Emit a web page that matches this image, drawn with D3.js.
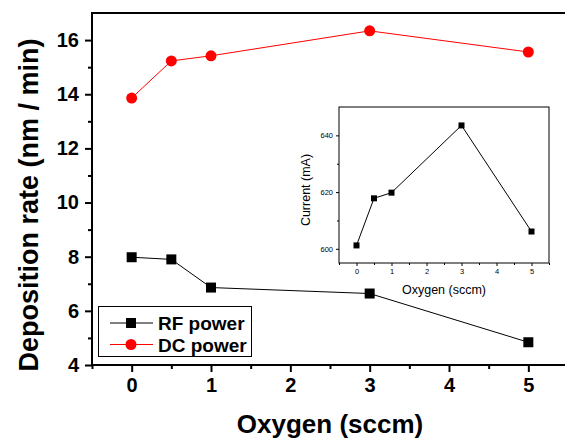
<!DOCTYPE html>
<html>
<head>
<meta charset="utf-8">
<script src="https://cdn.jsdelivr.net/npm/d3@7"></script>
<style>
  body { margin: 0; background: #fff; }
  svg { display: block; font-family: "Liberation Sans", Arial, sans-serif; }
</style>
</head>
<body>
<svg id="chart" width="565" height="438"></svg>
<script>
'use strict';

/* -- Data ------------------------------------------------------------------ */
const oxygen = [0, 0.5, 1, 3, 5];
const rfPower = [7.98, 7.9, 6.86, 6.64, 4.84];
const dcPower = [13.86, 15.23, 15.42, 16.34, 15.56];
const current = [601.2, 617.8, 619.8, 643.5, 606.1];

const mainXTicks = [0, 1, 2, 3, 4, 5];
const mainYTicks = [4, 6, 8, 10, 12, 14, 16];
const insetXTicks = [0, 1, 2, 3, 4, 5];
const insetYTicks = [600, 620, 640];

const seriesNames = ['RF power', 'DC power'];

const svg = d3.select('#chart');

/* -- Helper: draw a boxed axis pair with major + minor outward ticks -------- */
const drawFrame = function(g, x, y, o) {
    const [x0, x1] = x.range();
    const [y0, y1] = y.range();

    // minor ticks
    g.append('g')
        .attr('transform', 'translate(0,' + y0 + ')')
        .call(d3.axisBottom(x).tickValues(o.xMinor).tickSize(o.minor).tickFormat(''))
        .call(a => a.select('.domain').remove());
    g.append('g')
        .attr('transform', 'translate(' + x0 + ',0)')
        .call(d3.axisLeft(y).tickValues(o.yMinor).tickSize(o.minor).tickFormat(''))
        .call(a => a.select('.domain').remove());

    // major ticks + labels
    const xa = g.append('g')
        .attr('transform', 'translate(0,' + y0 + ')')
        .call(d3.axisBottom(x).tickValues(o.xTicks).tickSize(o.major)
            .tickPadding(o.xPad).tickFormat(d3.format('d')))
        .call(a => a.select('.domain').remove());
    const ya = g.append('g')
        .attr('transform', 'translate(' + x0 + ',0)')
        .call(d3.axisLeft(y).tickValues(o.yTicks).tickSize(o.major)
            .tickPadding(o.yPad).tickFormat(d3.format('d')))
        .call(a => a.select('.domain').remove());

    g.selectAll('.tick line').attr('stroke', '#000').attr('stroke-width', o.tickW);
    [xa, ya].forEach(a => a.selectAll('text')
        .attr('fill', '#000')
        .style('font-family', '"Liberation Sans", Arial, sans-serif')
        .style('font-size', o.fontSize + 'px')
        .style('font-weight', o.fontWeight));

    // frame
    g.append('rect')
        .attr('x', x0).attr('y', y1)
        .attr('width', x1 - x0).attr('height', y0 - y1)
        .attr('fill', 'none')
        .attr('stroke', '#000')
        .attr('stroke-width', o.frameW);
};

/* -- Main plot ------------------------------------------------------------- */
const xScale = d3.scaleLinear().domain([-0.5, 5.5]).range([92, 568]);
const yScale = d3.scaleLinear().domain([4, 17]).range([365, 13]);

const main = svg.append('g');
drawFrame(main, xScale, yScale, {
    xTicks: mainXTicks,
    yTicks: mainYTicks,
    xMinor: [-0.5, 0.5, 1.5, 2.5, 3.5, 4.5],
    yMinor: [5, 7, 9, 11, 13, 15],
    major: 7, minor: 4, tickW: 2, frameW: 2,
    xPad: 6, yPad: 6,
    fontSize: 20, fontWeight: 'bold'
});

const line = d3.line()
    .x((d, i) => xScale(oxygen[i]))
    .y(d => yScale(d));

main.append('path')
    .datum(rfPower)
    .attr('d', line)
    .attr('fill', 'none')
    .attr('stroke', '#000')
    .attr('stroke-width', 1);

main.append('path')
    .datum(dcPower)
    .attr('d', line)
    .attr('fill', 'none')
    .attr('stroke', '#ff0000')
    .attr('stroke-width', 1);

main.selectAll('rect.rf')
    .data(rfPower)
    .enter()
    .append('rect')
    .attr('class', 'rf')
    .attr('x', (d, i) => xScale(oxygen[i]) - 5)
    .attr('y', d => yScale(d) - 5)
    .attr('width', 10)
    .attr('height', 10)
    .attr('fill', '#000');

main.selectAll('circle.dc')
    .data(dcPower)
    .enter()
    .append('circle')
    .attr('class', 'dc')
    .attr('cx', (d, i) => xScale(oxygen[i]))
    .attr('cy', d => yScale(d))
    .attr('r', 5.5)
    .attr('fill', '#ff0000');

/* -- Axis titles ----------------------------------------------------------- */
svg.append('text')
    .attr('transform', 'translate(38,205) rotate(-90)')
    .attr('text-anchor', 'middle')
    .style('font-size', '27px')
    .style('font-weight', 'bold')
    .text('Deposition rate (nm / min)');

svg.append('text')
    .attr('x', 330)
    .attr('y', 433)
    .attr('text-anchor', 'middle')
    .style('font-size', '26px')
    .style('font-weight', 'bold')
    .text('Oxygen (sccm)');

/* -- Legend ---------------------------------------------------------------- */
const legend = svg.append('g');
legend.append('rect')
    .attr('x', 98.5).attr('y', 306.5)
    .attr('width', 153).attr('height', 50)
    .attr('fill', '#fff')
    .attr('stroke', '#000')
    .attr('stroke-width', 1);

const legendRows = legend.selectAll('g.row')
    .data(seriesNames)
    .enter()
    .append('g')
    .attr('class', 'row')
    .attr('transform', (d, i) => 'translate(0,' + (323 + i * 21.5) + ')');

legendRows.append('line')
    .attr('x1', 110).attr('x2', 153)
    .attr('stroke', (d, i) => i === 0 ? '#000' : '#ff0000')
    .attr('stroke-width', 1);

legendRows.filter((d, i) => i === 0).append('rect')
    .attr('x', 126).attr('y', -5).attr('width', 10).attr('height', 10)
    .attr('fill', '#000');
legendRows.filter((d, i) => i === 1).append('circle')
    .attr('cx', 131).attr('r', 5.5)
    .attr('fill', '#ff0000');

legendRows.append('text')
    .attr('x', 158)
    .attr('y', 7)
    .style('font-size', '19px')
    .style('font-weight', 'bold')
    .text(d => d);

/* -- Inset ----------------------------------------------------------------- */
const ix = d3.scaleLinear().domain([-0.5, 5.5]).range([339, 549]);
const iy = d3.scaleLinear().domain([595, 650]).range([263, 107]);

const inset = svg.append('g');
inset.append('rect')
    .attr('x', 339).attr('y', 107).attr('width', 210).attr('height', 156)
    .attr('fill', '#fff');

drawFrame(inset, ix, iy, {
    xTicks: insetXTicks,
    yTicks: insetYTicks,
    xMinor: [-0.5, 0.5, 1.5, 2.5, 3.5, 4.5, 5.5],
    yMinor: [610, 630],
    major: 3, minor: 2, tickW: 1, frameW: 1,
    xPad: 3, yPad: 3,
    fontSize: 7.5, fontWeight: 'normal'
});

const iline = d3.line()
    .x((d, i) => ix(oxygen[i]))
    .y(d => iy(d));

inset.append('path')
    .datum(current)
    .attr('d', iline)
    .attr('fill', 'none')
    .attr('stroke', '#000')
    .attr('stroke-width', 1);

inset.selectAll('rect.cur')
    .data(current)
    .enter()
    .append('rect')
    .attr('class', 'cur')
    .attr('x', (d, i) => ix(oxygen[i]) - 3)
    .attr('y', d => iy(d) - 3)
    .attr('width', 6)
    .attr('height', 6)
    .attr('fill', '#000');

svg.append('text')
    .attr('transform', 'translate(310,190) rotate(-90)')
    .attr('text-anchor', 'middle')
    .style('font-size', '12.5px')
    .text('Current (mA)');

svg.append('text')
    .attr('x', 444)
    .attr('y', 294)
    .attr('text-anchor', 'middle')
    .style('font-size', '12.5px')
    .text('Oxygen (sccm)');
</script>
</body>
</html>
